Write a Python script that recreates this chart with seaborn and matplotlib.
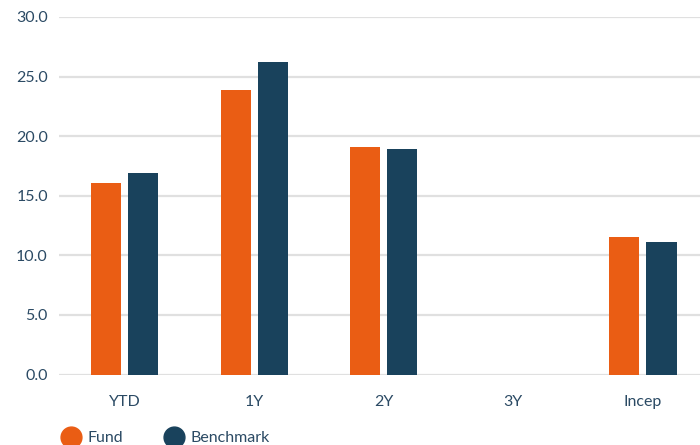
import numpy as np
import pandas as pd
import matplotlib
matplotlib.use("Agg")
import matplotlib.pyplot as plt
from matplotlib.lines import Line2D
import seaborn as sns

categories = ["YTD", "1Y", "2Y", "3Y", "Incep"]
fund = [16.1, 23.85, 19.05, np.nan, 11.5]
benchmark = [16.95, 26.25, 18.9, np.nan, 11.1]
series = ["Fund", "Benchmark"]
colors = ["#EA5D14", "#19425C"]
yticks = [0, 5, 10, 15, 20, 25, 30]

df = pd.DataFrame({
    "period": categories * 2,
    "series": [series[0]] * len(categories) + [series[1]] * len(categories),
    "value": fund + benchmark,
})

sns.set_theme(style="white")
plt.rcParams["font.family"] = ["Lato", "DejaVu Sans"]
text_color = "#2B4A64"

fig = plt.figure(figsize=(7, 4.45), dpi=100)
ax = fig.add_axes([59 / 700, (445 - 374.5) / 445, 1 - 59 / 700, (374.5 - 17) / 445])

sns.barplot(data=df, x="period", y="value", hue="series", order=categories,
            hue_order=series, palette=colors, width=0.572, gap=0.19,
            saturation=1, ax=ax, legend=False, errorbar=None, linewidth=0)

ax.set_xlim(-0.505, 4.44)
ax.set_ylim(0, 30)
ax.set_yticks(yticks)
ax.set_yticklabels([f"{v:.1f}" for v in yticks])
ax.set_xlabel("")
ax.set_ylabel("")
for s in ax.spines.values():
    s.set_visible(False)
ax.yaxis.grid(True, color="#E0E0E0", linewidth=1.6)
ax.set_axisbelow(True)
ax.tick_params(axis="y", length=0, pad=8, labelsize=11.5, labelcolor=text_color)
ax.tick_params(axis="x", length=0, pad=15, labelsize=11.5, labelcolor=text_color)

handles = [Line2D([0], [0], marker="o", linestyle="", markersize=15,
                  markerfacecolor=c, markeredgecolor=c) for c in colors]
fig.legend(handles, series, loc="center left", bbox_to_anchor=(51 / 700, 7 / 445),
           ncol=2, frameon=False, fontsize=11.5, labelcolor=text_color,
           handletextpad=0.3, columnspacing=2.4, borderpad=0, handlelength=1.5)

fig.savefig("out.png", dpi=100)
